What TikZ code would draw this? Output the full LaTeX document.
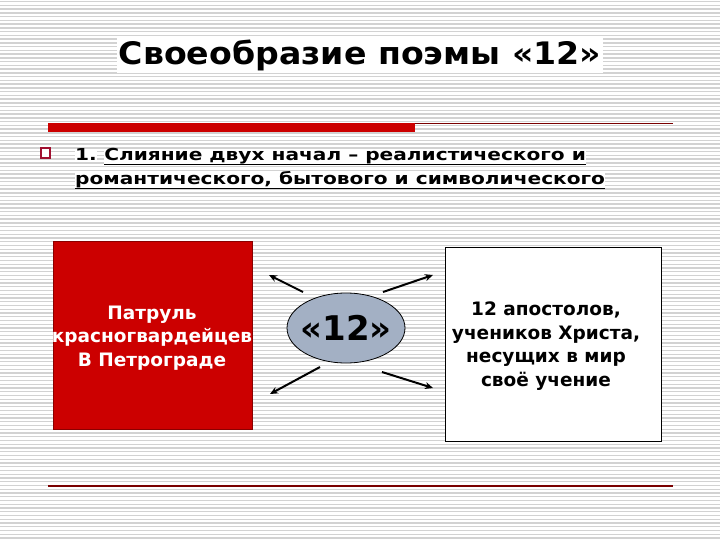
\documentclass[tikz,border=0pt]{standalone}
\usepackage{fontspec}
\setmainfont{DejaVu Sans}
\newfontfamily\titlefont{DejaVu Sans}[FakeStretch=1.07]
\newfontfamily\widefont{DejaVu Sans}[FakeStretch=1.22]
\usetikzlibrary{shapes.geometric,arrows.meta}
\definecolor{stripe}{HTML}{D2D2D2}
\definecolor{barred}{HTML}{CC0000}
\definecolor{linered}{HTML}{7A0000}
\definecolor{bulletred}{HTML}{A01030}
\definecolor{boxred}{HTML}{CC0000}
\definecolor{boxredline}{HTML}{8A0000}
\definecolor{ellfill}{HTML}{A3B0C4}
\tikzset{
  titletext/.style={font=\titlefont\bfseries\fontsize{31}{34}\selectfont, fill=white, inner sep=2pt},
  bodytext/.style={font=\widefont\bfseries\fontsize{16.5}{20}\selectfont, inner sep=0pt, fill=white},
  uline/.style={line width=1.6pt, black},
  boxtext/.style={font=\bfseries\fontsize{18.5}{23.5}\selectfont, align=center},
  arr/.style={line width=2pt, -{Stealth[length=8pt,width=7pt]}},
}
\begin{document}
\begin{tikzpicture}[x=1pt,y=-1pt]
\useasboundingbox (0,0) rectangle (720,540);
\fill[white] (0,0) rectangle (720,540);
\foreach \i in {0,...,144} {\fill[stripe] (0,\i*3.75+1) rectangle (720,\i*3.75+2.3);}
% title
\node[titletext, anchor=base] (title) at (360,65) {Своеобразие поэмы «12»};
% bar
\fill[barred] (48,123) rectangle (415,132);
\coordinate (barend) at (415,123.8);
\coordinate (lineend) at (673,123.8);
\draw[linered, line width=1.3pt] (barend) -- (lineend);
% bullet
\node[draw=bulletred, line width=1.5pt, minimum width=9pt, minimum height=10pt, inner sep=0pt, fill=white] (bul) at (45.5,153) {};
\node[bodytext, anchor=base west] (num) at (75,161) {1.};
\node[bodytext, anchor=base west] (l1) at ([xshift=7pt]num.base east) {Слияние двух начал – реалистического и};
\node[bodytext, anchor=base west] (l2) at (75,185) {романтического, бытового и символического};
\draw[uline] ([yshift=-3.5pt]l1.base west) -- ([yshift=-3.5pt]l1.base east);
\draw[uline] ([yshift=-3.5pt]l2.base west) -- ([yshift=-3.5pt]l2.base east);
% red box
\node[draw=boxredline, fill=boxred, line width=1pt, minimum width=199pt, minimum height=188pt, inner sep=0pt] (rbox) at (152.5,335) {};
\node[boxtext, text=white] (rtext) at (152,338) {Патруль\\красногвардейцев\\В Петрограде};
% ellipse
\node[ellipse, draw=black, line width=0.8pt, fill=ellfill, minimum width=118pt, minimum height=70pt, inner sep=0pt] (ell) at (346,328) {};
\node[font=\bfseries\fontsize{34}{38}\selectfont, inner sep=0pt] (elltext) at (ell.center) {«12»};
% white box
\node[draw=black, fill=white, line width=1pt, minimum width=216pt, minimum height=194pt, inner sep=0pt] (wbox) at (553,344) {};
\node[boxtext, text=black] (wtext) at (546,346) {12 апостолов,\\учеников Христа,\\несущих в мир\\своё учение};
% arrows
\coordinate (a1s) at (303,292); \coordinate (a1e) at (269,275);
\coordinate (a2s) at (383,292); \coordinate (a2e) at (433,275);
\coordinate (a3s) at (320,367); \coordinate (a3e) at (270,394);
\coordinate (a4s) at (382,372); \coordinate (a4e) at (433,388);
\draw[arr] (a1s) -- (a1e);
\draw[arr] (a2s) -- (a2e);
\draw[arr] (a3s) -- (a3e);
\draw[arr] (a4s) -- (a4e);
% bottom line
\coordinate (bl1) at (48,486); \coordinate (bl2) at (673,486);
\draw[linered, line width=1.3pt] (bl1) -- (bl2);
\end{tikzpicture}
\end{document}
